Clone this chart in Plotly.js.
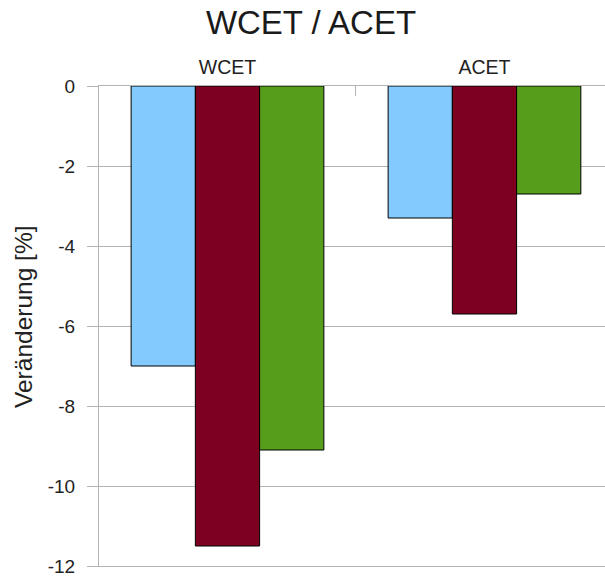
<!DOCTYPE html>
<html>
<head>
<meta charset="utf-8">
<script src="https://cdn.plot.ly/plotly-3.0.1.min.js"></script>
<style>html,body{margin:0;padding:0;background:#fff;}#chart{width:605px;height:578px;}</style>
</head>
<body>
<div id="chart"></div>
<script>
const categories = ["WCET", "ACET"];
const series1 = [-7.0, -3.3];
const series2 = [-11.5, -5.7];
const series3 = [-9.1, -2.7];
const seriesColors = ["#83CAFF", "#7E0021", "#579D1C"];
const yTickVals = [0, -2, -4, -6, -8, -10, -12];
const yTickText = ["0", "-2", "-4", "-6", "-8", "-10", "-12"];
const yTitle = "Veränderung [%]";
const chartTitle = "WCET / ACET";

const allSeries = [series1, series2, series3];
const traces = allSeries.map((vals, i) => ({
  type: "bar",
  x: categories,
  y: vals,
  marker: {color: seriesColors[i], line: {color: "#000000", width: 1}},
  hoverinfo: "none"
}));

const gridCol = "#b3b3b3";
const layout = {
  width: 605,
  height: 578,
  margin: {l: 99, r: 0, t: 86, b: 12, pad: 0},
  paper_bgcolor: "#ffffff",
  plot_bgcolor: "#ffffff",
  showlegend: false,
  barmode: "group",
  bargap: 0.25,
  bargroupgap: 0,
  font: {family: "Liberation Sans, Arial, sans-serif", color: "#222222"},
  title: {
    text: chartTitle,
    font: {size: 33, color: "#1a1a1a", weight: "normal"},
    x: 311 / 605, xref: "container", xanchor: "center",
    y: 1 - 22 / 578, yref: "container", yanchor: "middle"
  },
  xaxis: {
    type: "category",
    side: "top",
    range: [-0.5, 1.469],
    showgrid: false,
    showline: true,
    mirror: true,
    linecolor: gridCol,
    linewidth: 1,
    ticks: "inside",
    tickson: "boundaries",
    ticklen: 10,
    tickcolor: gridCol,
    tickfont: {size: 19.5, color: "#222222"},
    ticklabelstandoff: 3,
    zeroline: false,
    fixedrange: true
  },
  yaxis: {
    range: [-12, 0],
    tickvals: yTickVals,
    ticktext: yTickText,
    showgrid: true,
    gridcolor: gridCol,
    gridwidth: 1,
    showline: true,
    linecolor: gridCol,
    linewidth: 1,
    ticks: "outside",
    ticklen: 11,
    tickcolor: gridCol,
    tickfont: {size: 19, color: "#222222"},
    ticklabelstandoff: 8,
    zeroline: false,
    fixedrange: true
  },
  annotations: [{
    text: yTitle,
    textangle: -90,
    xref: "paper", yref: "paper",
    x: (23 - 99) / 506, y: (566 - 317) / 480,
    xanchor: "center", yanchor: "middle",
    showarrow: false,
    font: {size: 24.5, color: "#222222"}
  }]
};

Plotly.newPlot("chart", traces, layout, {staticPlot: true, displayModeBar: false});
</script>
</body>
</html>
